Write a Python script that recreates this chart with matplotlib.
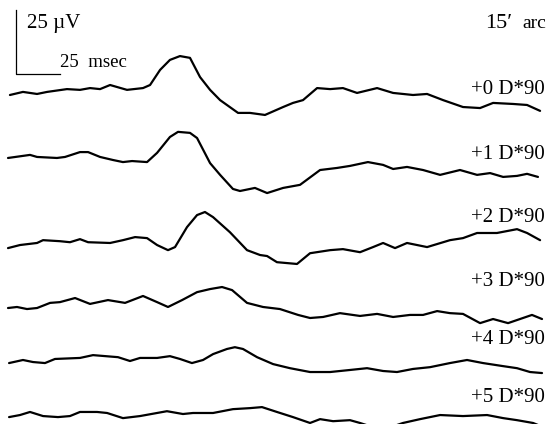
import numpy as np
import matplotlib
matplotlib.use("Agg")
import matplotlib.pyplot as plt

plt.rcParams['font.family'] = ['Liberation Serif', 'DejaVu Serif']

# evoked potentials, time in msec, amplitude in microvolt (relative to each trace start)
labels = ["+0 D*90", "+1 D*90", "+2 D*90", "+3 D*90", "+4 D*90", "+5 D*90"]

t0 = [1.1, 8.5, 16.5, 22.2, 33.5, 40.9, 46.6, 52.3, 58.0, 67.6, 76.7, 80.7, 86.4, 92.0, 97.7, 103.4,
      109.1, 114.8, 120.5, 130.7, 137.5, 146.0, 156.3, 161.9, 167.6, 175.6, 183.0, 190.3, 198.3,
      209.7, 218.8, 230.1, 238.1, 247.2, 258.5, 268.2, 275.6, 286.9, 294.9, 302.3]
v0 = [0, 1.2, 0.4, 1.2, 2.3, 2.0, 2.7, 2.3, 3.9, 2.0, 2.7, 3.9, 9.8, 13.7, 15.2, 14.5,
      7.0, 2.0, -2.0, -7.0, -7.0, -7.8, -4.7, -3.1, -2.0, 2.7, 2.3, 2.7, 0.8,
      2.7, 0.8, 0, 0.4, -2.0, -4.7, -5.1, -3.1, -3.5, -3.9, -6.2]

t1 = [0, 12.5, 16.5, 27.8, 32.4, 40.9, 45.5, 52.3, 59.7, 65.3, 70.5, 79.0, 84.7, 92.0, 96.6, 103.4,
      107.4, 114.8, 120.5, 127.8, 131.8, 140.3, 147.2, 156.3, 165.9, 177.3, 186.9, 194.3, 204.5,
      213.1, 218.8, 226.7, 235.8, 245.5, 256.8, 266.5, 273.9, 281.3, 289.2, 294.9, 301.1]
v1 = [0, 1.2, 0.4, 0, 0.4, 2.3, 2.3, 0.4, -0.8, -1.6, -1.2, -1.6, 2.0, 8.2, 10.2, 9.8,
      7.8, -2.0, -6.6, -12.1, -12.9, -11.7, -13.7, -11.7, -10.5, -4.7, -3.9, -3.1, -1.6,
      -2.7, -4.3, -3.5, -4.7, -6.6, -4.7, -6.6, -5.9, -7.4, -7.0, -6.2, -7.4]

t2 = [0, 6.8, 16.5, 19.9, 29.5, 35.2, 40.9, 45.5, 58.0, 65.3, 72.2, 79.0, 84.7, 90.9, 94.9, 101.7,
      107.4, 111.9, 116.5, 126.1, 135.8, 143.2, 147.2, 152.8, 164.2, 171.6, 183.0, 190.3, 200.0,
      207.4, 213.1, 219.9, 226.7, 238.1, 251.1, 258.5, 266.5, 277.8, 289.2, 294.9, 302.3]
v2 = [0, 1.2, 2.0, 3.1, 2.7, 2.3, 3.5, 2.3, 2.0, 3.1, 4.3, 3.9, 1.2, -0.8, 0.4, 8.2,
      12.9, 14.1, 12.1, 6.2, -0.8, -2.7, -3.1, -5.5, -6.2, -2.0, -0.8, -0.4, -1.6,
      0.4, 2.0, 0, 2.0, 0.4, 3.1, 3.9, 5.9, 5.9, 7.4, 5.9, 3.1]

t3 = [0, 5.1, 10.8, 16.5, 23.9, 29.5, 38.1, 46.6, 56.8, 66.5, 76.7, 84.7, 90.9, 98.9, 107.4, 114.8,
      121.6, 127.3, 135.8, 144.9, 154.5, 164.8, 171.6, 179.0, 188.6, 200.0, 209.7, 218.8, 228.4,
      235.8, 243.8, 251.1, 258.5, 268.2, 275.6, 284.1, 290.9, 297.7, 303.4]
v3 = [0, 0.4, -0.4, 0, 2.0, 2.3, 3.9, 1.6, 3.1, 2.0, 4.7, 2.3, 0.4, 3.1, 6.2, 7.4,
      8.2, 7.0, 2.0, 0.4, -0.4, -2.7, -3.9, -3.5, -2.0, -3.1, -2.3, -3.5, -2.7,
      -2.7, -1.2, -2.0, -2.3, -5.9, -4.3, -5.9, -4.3, -2.7, -4.3]

t4 = [0.6, 8.5, 14.2, 21.0, 26.7, 40.9, 48.3, 62.5, 69.3, 75.0, 84.7, 92.0, 97.7, 104.5, 110.8,
      116.5, 124.4, 128.9, 133.5, 141.5, 150.6, 160.2, 171.6, 183.0, 194.3, 204.0, 213.1, 221.0,
      230.1, 239.8, 251.1, 260.8, 269.9, 281.3, 289.2, 296.6, 303.4]
v4 = [0, 1.2, 0.4, 0, 1.6, 2.0, 3.1, 2.3, 0.8, 2.0, 2.0, 2.7, 1.6, 0, 1.2,
      3.5, 5.5, 6.2, 5.5, 2.3, -0.4, -2.0, -3.5, -3.5, -2.7, -2.0, -3.1, -3.5,
      -2.3, -1.6, 0, 1.2, 0, -1.2, -2.0, -3.5, -3.9]

t5 = [0.6, 6.8, 12.5, 19.9, 28.4, 35.2, 40.9, 50.6, 56.3, 65.3, 75.0, 90.3, 99.4, 105.1, 116.5,
      127.8, 137.5, 144.3, 152.8, 161.9, 171.6, 177.3, 184.7, 194.3, 200.0, 212.5, 224.4, 234.1,
      245.5, 258.5, 272.2, 281.3, 289.2, 298.3, 304.0]
v5 = [0, 0.8, 2.0, 0.4, 0, 0.4, 2.0, 2.0, 1.6, -0.4, 0.4, 2.3, 1.2, 1.6, 1.6,
      3.1, 3.5, 3.9, 2.0, 0, -2.3, -0.8, -1.6, -1.2, -2.3, -5.1, -2.3, -0.8,
      0.8, 0.4, 0.8, -0.4, -1.2, -2.3, -3.9]

times = [t0, t1, t2, t3, t4, t5]
volts = [v0, v1, v2, v3, v4, v5]

# vertical stacking of the traces (microvolt) and label heights
offsets = [0, -24.6, -59.8, -83.2, -104.7, -125.8]
label_y = [2.0, -23.4, -48.0, -73.0, -95.6, -118.2]

fig = plt.figure(figsize=(5.48, 4.24), dpi=100)
ax = fig.add_axes([0, 0, 1, 1])
ax.set_xlim(-4.55, 306.8)
ax.set_ylim(-128.5, 37.1)
ax.axis("off")

for t, v, off in zip(times, volts, offsets):
    ax.plot(t, np.array(v) + off, color="black", lw=1.6,
            solid_joinstyle="round", solid_capstyle="round")

for lab, y in zip(labels, label_y):
    ax.text(305.1, y, lab, ha="right", va="center", fontsize=15)

# scale bar: 25 uV / 25 msec
ax.plot([4.5, 4.5, 29.5], [33.2, 8.2, 8.2], color="black", lw=0.9)
ax.text(10.8, 26.2, "25 \u00b5V", ha="left", va="baseline", fontsize=15)
ax.text(29.8, 10.9, "25  msec", ha="left", va="baseline", fontsize=13.5)

ax.text(305.6, 26.2, "arc", ha="right", va="baseline", fontsize=14)
ax.text(286.4, 26.2, "15\u2032", ha="right", va="baseline", fontsize=16)

plt.savefig("out.png", dpi=100)
